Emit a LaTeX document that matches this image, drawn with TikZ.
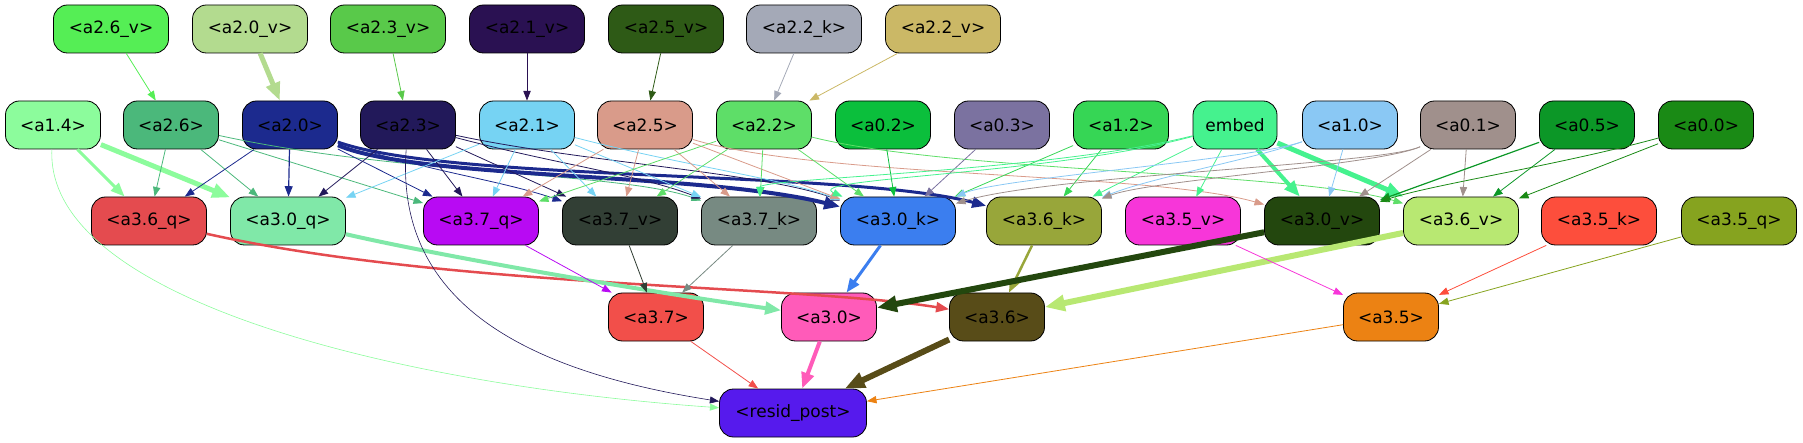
\documentclass[tikz,border=0pt]{standalone}
\usepackage{fontspec}
\setmainfont{DejaVu Sans}
\usetikzlibrary{arrows.meta}

\definecolor{c26v}{HTML}{55EE55}
\definecolor{c20v}{HTML}{B3DB8F}
\definecolor{c23v}{HTML}{59C94A}
\definecolor{c21v}{HTML}{2A1152}
\definecolor{c25v}{HTML}{2E5A16}
\definecolor{c22k}{HTML}{A4A9B7}
\definecolor{c22v}{HTML}{CBB866}
\definecolor{c14}{HTML}{8CFC9C}
\definecolor{c26}{HTML}{4BB87B}
\definecolor{c20}{HTML}{1C2A8E}
\definecolor{c23}{HTML}{22195A}
\definecolor{c21}{HTML}{76D3F3}
\definecolor{c25}{HTML}{D99B8A}
\definecolor{c22}{HTML}{5EDE68}
\definecolor{c02}{HTML}{0BBF3C}
\definecolor{c03}{HTML}{7B72A0}
\definecolor{c12}{HTML}{36D655}
\definecolor{cemb}{HTML}{45F28E}
\definecolor{c10}{HTML}{8AC8F4}
\definecolor{c01}{HTML}{A0908C}
\definecolor{c05}{HTML}{0C9727}
\definecolor{c00}{HTML}{1A8A15}
\definecolor{c36q}{HTML}{E44B4F}
\definecolor{c30q}{HTML}{80E8A8}
\definecolor{c37q}{HTML}{B80AF3}
\definecolor{c37v}{HTML}{323F35}
\definecolor{c37k}{HTML}{778A82}
\definecolor{c30k}{HTML}{3B7EEF}
\definecolor{c36k}{HTML}{98A63A}
\definecolor{c35v}{HTML}{F736D9}
\definecolor{c30v}{HTML}{23470E}
\definecolor{c36v}{HTML}{B8E872}
\definecolor{c35k}{HTML}{FD4E3C}
\definecolor{c35q}{HTML}{86A31F}
\definecolor{c37}{HTML}{F24F4A}
\definecolor{c30}{HTML}{FF5BB9}
\definecolor{c36}{HTML}{584C18}
\definecolor{c35}{HTML}{EC8213}
\definecolor{cres}{HTML}{561AED}

\begin{document}
\begin{tikzpicture}[x=1pt, y=1pt,
    box/.style={draw=black, line width=0.8pt, rounded corners=14pt, minimum height=48pt, inner sep=0pt, font=\fontsize{17}{20}\selectfont},
    wbox/.style={box, minimum width=115pt},
    nbox/.style={box, minimum width=95pt},
    link/.style={-{Triangle[length=8pt 2, width=6pt 1.6]}, line width=0.8pt}]
            \useasboundingbox (0, 0) rectangle (1803, -443);

            % Inputs
            \node[wbox, fill=c26v] (a26v) at (111, -29) {<a2.6\_v>};
            \node[wbox, fill=c20v] (a20v) at (250, -29) {<a2.0\_v>};
            \node[wbox, fill=c23v] (a23v) at (388, -29) {<a2.3\_v>};
            \node[wbox, fill=c21v] (a21v) at (527, -29) {<a2.1\_v>};
            \node[wbox, fill=c25v] (a25v) at (666, -29) {<a2.5\_v>};
            \node[wbox, fill=c22k] (a22k) at (804, -29) {<a2.2\_k>};
            \node[wbox, fill=c22v] (a22v) at (943, -29) {<a2.2\_v>};

            % Second layer
            \node[nbox, fill=c14] (a14) at (53, -125) {<a1.4>};
            \node[nbox, fill=c26] (a26) at (171, -125) {<a2.6>};
            \node[nbox, fill=c20] (a20) at (290, -125) {<a2.0>};
            \node[nbox, fill=c23] (a23) at (408, -125) {<a2.3>};
            \node[nbox, fill=c21] (a21) at (527, -125) {<a2.1>};
            \node[nbox, fill=c25] (a25) at (645, -125) {<a2.5>};
            \node[nbox, fill=c22] (a22) at (764, -125) {<a2.2>};
            \node[nbox, fill=c02] (a02) at (883, -125) {<a0.2>};
            \node[nbox, fill=c03] (a03) at (1002, -125) {<a0.3>};
            \node[nbox, fill=c12] (a12) at (1121, -125) {<a1.2>};
            \node[box, minimum width=84pt, fill=cemb] (emb) at (1235, -125) {embed};
            \node[nbox, fill=c10] (a10) at (1350, -125) {<a1.0>};
            \node[nbox, fill=c01] (a01) at (1468, -125) {<a0.1>};
            \node[nbox, fill=c05] (a05) at (1587, -125) {<a0.5>};
            \node[nbox, fill=c00] (a00) at (1706, -125) {<a0.0>};

            % Third layer
            \node[wbox, fill=c36q] (a36q) at (149, -221) {<a3.6\_q>};
            \node[wbox, fill=c30q] (a30q) at (288, -221) {<a3.0\_q>};
            \node[wbox, fill=c37q] (a37q) at (481, -221) {<a3.7\_q>};
            \node[wbox, fill=c37v] (a37v) at (620, -221) {<a3.7\_v>};
            \node[wbox, fill=c37k] (a37k) at (759, -221) {<a3.7\_k>};
            \node[wbox, fill=c30k] (a30k) at (898, -221) {<a3.0\_k>};
            \node[wbox, fill=c36k] (a36k) at (1044, -221) {<a3.6\_k>};
            \node[wbox, fill=c35v] (a35v) at (1183, -221) {<a3.5\_v>};
            \node[wbox, fill=c30v] (a30v) at (1322, -221) {<a3.0\_v>};
            \node[wbox, fill=c36v] (a36v) at (1461, -221) {<a3.6\_v>};
            \node[wbox, fill=c35k] (a35k) at (1599, -221) {<a3.5\_k>};
            \node[wbox, fill=c35q] (a35q) at (1739, -221) {<a3.5\_q>};

            % Fourth layer
            \node[nbox, fill=c37] (a37) at (656, -317) {<a3.7>};
            \node[nbox, fill=c30] (a30) at (829, -317) {<a3.0>};
            \node[nbox, fill=c36] (a36) at (997, -317) {<a3.6>};
            \node[nbox, fill=c35] (a35) at (1391, -317) {<a3.5>};
            \node[box, minimum width=147pt, fill=cres] (res) at (793, -413) {<resid\_post>};

            % Inputs to second layer
            \draw[link, c26v] (a26v) -- (a26);
            \draw[link, c20v, line width=5pt] (a20v) -- (a20);
            \draw[link, c23v] (a23v) -- (a23);
            \draw[link, c21v] (a21v) -- (a21);
            \draw[link, c25v] (a25v) -- (a25);
            \draw[link, c22k] (a22k) -- (a22);
            \draw[link, c22v] (a22v) -- (a22);

            % Second layer to third layer, left part
            \draw[link, c14, line width=3pt] (a14) -- (a36q);
            \draw[link, c14, line width=5pt] (a14) -- (a30q);
            \draw[link, c26] (a26) -- (a36q);
            \draw[link, c26] (a26) -- (a30q);
            \draw[link, c26] (a26) -- (a37q);
            \draw[link, c26] (a26) .. controls (400, -175) and (620, -172) .. (a37k);
            \draw[link, c20] (a20) -- (a36q);
            \draw[link, c20, line width=1.2pt] (a20) -- (a30q);
            \draw[link, c20] (a20) -- (a37q);
            \draw[link, c20] (a20) .. controls (420, -170) and (500, -180) .. (a37v);
            \draw[link, c20, line width=4pt] (a20) .. controls (420, -180) and (700, -172) .. (a30k);
            \draw[link, c20, line width=3pt] (a20) .. controls (450, -182) and (850, -170) .. (a36k);
            \draw[link, c23] (a23) -- (a30q);
            \draw[link, c23] (a23) -- (a37q);
            \draw[link, c23] (a23) -- (a37v);
            \draw[link, c23] (a23) .. controls (560, -165) and (640, -175) .. (a37k);
            \draw[link, c23] (a23) .. controls (580, -162) and (760, -172) .. (a30k);
            \draw[link, c21] (a21) -- (a30q);
            \draw[link, c21] (a21) -- (a37q);
            \draw[link, c21] (a21) -- (a37v);
            \draw[link, c21] (a21) -- (a37k);
            \draw[link, c21] (a21) .. controls (680, -165) and (780, -178) .. (a30k);
            \draw[link, c25] (a25) -- (a37q);
            \draw[link, c25] (a25) -- (a37v);
            \draw[link, c25] (a25) -- (a37k);
            \draw[link, c25] (a25) -- (a30k);
            \draw[link, c25] (a25) .. controls (820, -178) and (1150, -172) .. (a30v);

            % Second layer to third layer, right part
            \draw[link, c22] (a22) -- (a37q);
            \draw[link, c22] (a22) -- (a37v);
            \draw[link, c22] (a22) -- (a37k);
            \draw[link, c22] (a22) -- (a30k);
            \draw[link, c22] (a22) .. controls (950, -172) and (1300, -172) .. (a36v);
            \draw[link, c02] (a02) -- (a30k);
            \draw[link, c03] (a03) -- (a30k);
            \draw[link, c12] (a12) -- (a30k);
            \draw[link, c12] (a12) -- (a36k);
            \draw[link, cemb] (emb) .. controls (1050, -172) and (760, -178) .. (a37k);
            \draw[link, cemb] (emb) .. controls (1050, -175) and (800, -178) .. (a30k);
            \draw[link, cemb] (emb) -- (a36k);
            \draw[link, cemb] (emb) -- (a35v);
            \draw[link, cemb, line width=4pt] (emb) -- (a30v);
            \draw[link, cemb, line width=5pt] (emb) -- (a36v);
            \draw[link, c10] (a10) .. controls (1250, -160) and (1000, -178) .. (a30k);
            \draw[link, c10] (a10) .. controls (1250, -160) and (1150, -178) .. (a36k);
            \draw[link, c10] (a10) -- (a30v);
            \draw[link, c01] (a01) .. controls (1380, -165) and (1050, -175) .. (a30k);
            \draw[link, c01] (a01) .. controls (1380, -165) and (1150, -180) .. (a36k);
            \draw[link, c01] (a01) -- (a30v);
            \draw[link, c01] (a01) -- (a36v);
            \draw[link, c05, line width=1.2pt] (a05) -- (a30v);
            \draw[link, c05] (a05) -- (a36v);
            \draw[link, c00] (a00) .. controls (1560, -165) and (1430, -185) .. (a30v);
            \draw[link, c00] (a00) -- (a36v);

            % Third layer to fourth layer
            \draw[link, c36q, line width=2.5pt] (a36q) .. controls (450, -288) and (800, -285) .. (a36);
            \draw[link, c30q, line width=4pt] (a30q) .. controls (450, -258) and (650, -292) .. (a30);
            \draw[link, c37q] (a37q) -- (a37);
            \draw[link, c37v] (a37v) -- (a37);
            \draw[link, c37k] (a37k) -- (a37);
            \draw[link, c30k, line width=3pt] (a30k) -- (a30);
            \draw[link, c36k, line width=2.5pt] (a36k) -- (a36);
            \draw[link, c30v, line width=6pt] (a30v) -- (a30);
            \draw[link, c36v, line width=6pt] (a36v) -- (a36);
            \draw[link, c35v] (a35v) -- (a35);
            \draw[link, c35k] (a35k) -- (a35);
            \draw[link, c35q] (a35q) -- (a35);

            % Into resid_post
            \draw[link, c14, line width=0.6pt] (a14) .. controls (45, -300) and (400, -385) .. (res);
            \draw[link, c23, line width=0.6pt] (a23) .. controls (395, -300) and (520, -370) .. (res);
            \draw[link, c37] (a37) -- (res);
            \draw[link, c30, line width=4pt] (a30) -- (res);
            \draw[link, c36, line width=6pt] (a36) -- (res);
            \draw[link, c35] (a35) -- (res);

\end{tikzpicture}
\end{document}
